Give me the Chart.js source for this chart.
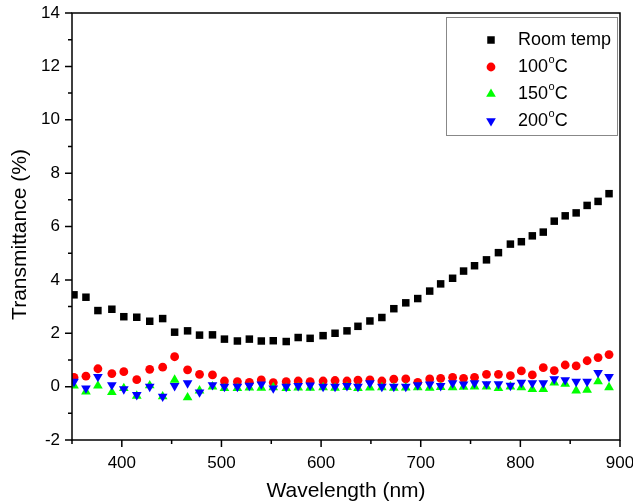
<!DOCTYPE html>
<html>
<head>
<meta charset="utf-8">
<script src="https://cdn.jsdelivr.net/npm/chart.js@4.4.0/dist/chart.umd.min.js"></script>
<style>
  html, body { margin: 0; padding: 0; background: #fff; }
  #wrap { width: 633px; height: 504px; }
</style>
</head>
<body>
<div id="wrap"><canvas id="chart" width="633" height="504"></canvas></div>
<script>
// measured spectra, transmittance (%) vs wavelength (nm)
const wavelength = [352, 364, 376, 390, 402, 415, 428, 441, 453, 466, 478, 491, 503, 516, 528, 540,
    552, 565, 577, 589, 602, 614, 626, 637, 649, 661, 673, 685, 697, 709, 720, 732,
    743, 754, 766, 778, 790, 801, 812, 823, 834, 845, 856, 867, 878, 889];
const roomTemp = [3.44, 3.35, 2.85, 2.90, 2.62, 2.60, 2.45, 2.55, 2.04, 2.09, 1.93, 1.94, 1.78, 1.71, 1.78, 1.71,
    1.72, 1.69, 1.84, 1.81, 1.91, 2.00, 2.09, 2.26, 2.46, 2.59, 2.92, 3.14, 3.30, 3.58, 3.85, 4.06,
    4.33, 4.53, 4.75, 5.02, 5.34, 5.43, 5.65, 5.79, 6.20, 6.40, 6.51, 6.79, 6.94, 7.23];
const temp100 = [0.35, 0.39, 0.67, 0.49, 0.56, 0.26, 0.65, 0.73, 1.12, 0.63, 0.46, 0.44, 0.21, 0.19, 0.16, 0.25,
    0.15, 0.19, 0.21, 0.19, 0.21, 0.23, 0.21, 0.24, 0.25, 0.21, 0.28, 0.29, 0.16, 0.29, 0.31, 0.35,
    0.31, 0.35, 0.46, 0.46, 0.41, 0.59, 0.44, 0.71, 0.60, 0.81, 0.78, 0.97, 1.09, 1.20];
const temp150 = [0.03, -0.19, 0.03, -0.21, -0.06, -0.35, 0.04, -0.37, 0.25, -0.41, -0.15, 0.00, -0.06, -0.06, -0.04, -0.05,
    -0.03, -0.06, -0.04, -0.05, -0.03, -0.05, -0.02, -0.06, -0.04, -0.03, -0.05, -0.04, -0.03, -0.05, -0.02, -0.03,
    -0.01, 0.00, 0.00, -0.06, 0.00, -0.03, -0.10, -0.10, 0.15, 0.10, -0.15, -0.12, 0.19, -0.03];
const temp200 = [0.19, -0.06, 0.37, 0.06, -0.09, -0.31, 0.00, -0.37, 0.03, 0.13, -0.21, 0.06, 0.00, 0.00, 0.04, 0.09,
    -0.06, 0.00, 0.03, 0.05, 0.00, 0.00, 0.03, 0.00, 0.13, 0.00, 0.00, 0.00, 0.06, 0.09, 0.03, 0.13,
    0.09, 0.13, 0.10, 0.10, 0.04, 0.15, 0.13, 0.13, 0.28, 0.25, 0.19, 0.19, 0.52, 0.37];

const seriesLabels = ['Room temp', '100°C', '150°C', '200°C'];
const xMajorTicks = [400, 500, 600, 700, 800, 900];
const xMinorTicks = [350, 450, 550, 650, 750, 850];
const yMajorTicks = [-2, 0, 2, 4, 6, 8, 10, 12, 14];
const yMinorTicks = [-1, 1, 3, 5, 7, 9, 11, 13];
const yTitle = 'Transmittance (%)';

const FONT = '"Liberation Sans", Arial, sans-serif';

function toPoints(values) {
    return values.map((v, i) => ({ x: wavelength[i], y: v }));
}

// outward major/minor tick marks plus the closed frame round the plot
const frameTicks = {
    id: 'frameTicks',
    afterDatasetsDraw(chart) {
        const { ctx, chartArea: a, scales: { x, y } } = chart;
        ctx.save();
        ctx.strokeStyle = '#000';
        ctx.lineWidth = 1.5;
        ctx.strokeRect(a.left, a.top, a.right - a.left, a.bottom - a.top);
        ctx.beginPath();
        xMajorTicks.forEach(v => { const p = x.getPixelForValue(v); ctx.moveTo(p, a.bottom); ctx.lineTo(p, a.bottom + 7); });
        xMinorTicks.forEach(v => { const p = x.getPixelForValue(v); ctx.moveTo(p, a.bottom); ctx.lineTo(p, a.bottom + 4); });
        yMajorTicks.forEach(v => { const p = y.getPixelForValue(v); ctx.moveTo(a.left, p); ctx.lineTo(a.left - 7, p); });
        yMinorTicks.forEach(v => { const p = y.getPixelForValue(v); ctx.moveTo(a.left, p); ctx.lineTo(a.left - 4, p); });
        ctx.stroke();

        // y title sits a little below the middle of the axis
        ctx.fillStyle = '#000';
        ctx.font = '21px ' + FONT;
        ctx.textAlign = 'center';
        ctx.textBaseline = 'middle';
        ctx.translate(20, (a.top + a.bottom) / 2 + 8);
        ctx.rotate(-Math.PI / 2);
        ctx.fillText(yTitle, 0, 0);
        ctx.restore();
    }
};

// boxed legend in the upper right, degree sign drawn as a raised small "o"
const boxLegend = {
    id: 'boxLegend',
    afterDraw(chart) {
        const ctx = chart.ctx;
        ctx.save();
        ctx.fillStyle = '#fff';
        ctx.fillRect(446, 17, 171, 118);
        ctx.strokeStyle = '#888';
        ctx.lineWidth = 1;
        ctx.strokeRect(446.5, 17.5, 171, 118);
        chart.data.datasets.forEach((ds, i) => {
            const cy = 40 + i * 27;
            ctx.fillStyle = ds.backgroundColor;
            Chart.helpers.drawPoint(ctx, {
                pointStyle: ds.pointStyle, radius: ds.pointRadius,
                rotation: ds.rotation || 0, borderWidth: 0
            }, 491, cy);
            ctx.fillStyle = '#000';
            ctx.textBaseline = 'middle';
            ctx.textAlign = 'left';
            const parts = ds.label.split('°');
            let tx = 518;
            ctx.font = '18px ' + FONT;
            ctx.fillText(parts[0], tx, cy);
            tx += ctx.measureText(parts[0]).width;
            if (parts.length > 1) {
                ctx.font = '11px ' + FONT;
                ctx.fillText('o', tx + 0.5, cy - 7);
                tx += ctx.measureText('o').width + 0.5;
                ctx.font = '18px ' + FONT;
                ctx.fillText(parts[1], tx, cy);
            }
        });
        ctx.restore();
    }
};

new Chart(document.getElementById('chart'), {
    type: 'scatter',
    data: {
        datasets: [
            { label: seriesLabels[0], data: toPoints(roomTemp), pointStyle: 'rect', pointRadius: 5.3,
              backgroundColor: '#000000', borderWidth: 0, order: 3 },
            { label: seriesLabels[1], data: toPoints(temp100), pointStyle: 'circle', pointRadius: 4.4,
              backgroundColor: '#ff0000', borderWidth: 0, order: 2 },
            { label: seriesLabels[2], data: toPoints(temp150), pointStyle: 'triangle', pointRadius: 5.6,
              backgroundColor: '#00ff00', borderWidth: 0, order: 1 },
            { label: seriesLabels[3], data: toPoints(temp200), pointStyle: 'triangle', pointRadius: 5.6,
              rotation: 180, backgroundColor: '#0000ff', borderWidth: 0, order: 0 }
        ]
    },
    options: {
        responsive: false,
        animation: false,
        layout: { padding: { top: 13, right: 13, left: 0, bottom: 0 } },
        plugins: { legend: { display: false }, tooltip: { enabled: false } },
        scales: {
            x: {
                type: 'linear', min: 350, max: 900,
                afterBuildTicks: s => { s.ticks = xMajorTicks.map(v => ({ value: v })); },
                afterFit: s => { s.height = 64; s.paddingLeft = 0; s.paddingRight = 0; },
                grid: { display: false, drawTicks: false },
                border: { display: false },
                ticks: { color: '#000', padding: 13, maxRotation: 0, autoSkip: false, font: { family: FONT, size: 17 } },
                title: { display: true, text: 'Wavelength (nm)', color: '#000',
                         font: { family: FONT, size: 21 }, padding: { top: 0, bottom: 0 } }
            },
            y: {
                type: 'linear', min: -2, max: 14,
                afterBuildTicks: s => { s.ticks = yMajorTicks.map(v => ({ value: v })); },
                afterFit: s => { s.width = 72; s.paddingTop = 0; s.paddingBottom = 0; },
                grid: { display: false, drawTicks: false },
                border: { display: false },
                ticks: { color: '#000', padding: 12, autoSkip: false, font: { family: FONT, size: 17 } },
                title: { display: false }
            }
        }
    },
    plugins: [frameTicks, boxLegend]
});
</script>
</body>
</html>
